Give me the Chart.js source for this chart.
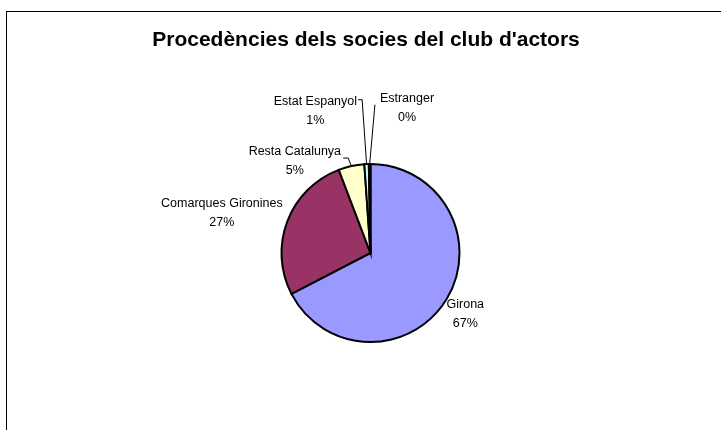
<!DOCTYPE html>
<html>
<head>
<meta charset="utf-8">
<script src="https://cdn.jsdelivr.net/npm/chart.js@4/dist/chart.umd.min.js"></script>
<style>
html,body{margin:0;padding:0;background:#fff;}
#wrap{position:relative;width:721px;height:430px;}
</style>
</head>
<body>
<div id="wrap"><canvas id="c" width="721" height="430"></canvas></div>
<script>
// ---- data ----
const chartTitle = "Procedències dels socies del club d'actors";
const categories = ["Girona", "Comarques Gironines", "Resta Catalunya", "Estat Espanyol", "Estranger"];
const shareValues = [67.4, 26.8, 4.7, 0.8, 0.3];
const percentLabels = ["67%", "27%", "5%", "1%", "0%"];
const sliceColors = ["#9999FF", "#993366", "#FFFFCC", "#CCFFFF", "#660066"];

// ---- layout (label placement relative to pie centre, in radius units) ----
const labelOffsets = [[1.065, 0.69], [-1.67, -0.45], [-0.85, -1.03], [-0.62, -1.60], [0.41, -1.63]];
const leaderPaths = [null, null, [[-0.306, -1.067], [-0.25, -1.067]], [[-0.139, -1.722], [-0.094, -1.722]], [[0.05, -1.667]]];

const frameAndLabels = {
  id: 'frameAndLabels',
  beforeDraw(chart) {
    const ctx = chart.ctx;
    ctx.save();
    ctx.fillStyle = '#fff';
    ctx.fillRect(0, 0, chart.width, chart.height);
    ctx.strokeStyle = '#000';
    ctx.lineWidth = 1;
    ctx.strokeRect(6.5, 11.5, chart.width + 10, chart.height + 10);
    ctx.restore();
  },
  afterDraw(chart) {
    const ctx = chart.ctx;
    const meta = chart.getDatasetMeta(0);
    const arc0 = meta.data[0];
    const cx = arc0.x, cy = arc0.y, r = arc0.outerRadius;
    ctx.save();
    // title
    ctx.fillStyle = '#000';
    ctx.font = 'bold 21px "Liberation Sans", Arial, sans-serif';
    ctx.textAlign = 'center';
    ctx.textBaseline = 'alphabetic';
    ctx.fillText(chartTitle, 366, 46);
    // labels
    ctx.textBaseline = 'middle';
    ctx.font = '12.5px "Liberation Sans", Arial, sans-serif';
    meta.data.forEach((arc, i) => {
      const mid = (arc.startAngle + arc.endAngle) / 2;
      const ax = cx + Math.cos(mid) * r, ay = cy + Math.sin(mid) * r;
      const lx = cx + labelOffsets[i][0] * r, ly = cy + labelOffsets[i][1] * r;
      ctx.fillText(chart.data.labels[i], lx, ly - 9.5);
      ctx.fillText(percentLabels[i], lx, ly + 9.5);
      const path = leaderPaths[i];
      if (path) {
        ctx.beginPath();
        ctx.strokeStyle = '#000';
        ctx.lineWidth = 1;
        path.forEach((p, k) => {
          const px = cx + p[0] * r, py = cy + p[1] * r;
          if (k === 0) ctx.moveTo(px, py); else ctx.lineTo(px, py);
        });
        ctx.lineTo(ax, ay);
        ctx.stroke();
      }
    });
    ctx.restore();
  }
};

new Chart(document.getElementById('c'), {
  type: 'pie',
  data: {
    labels: categories,
    datasets: [{
      data: shareValues,
      backgroundColor: sliceColors,
      borderColor: '#000',
      borderWidth: 2,
      borderJoinStyle: 'miter'
    }]
  },
  options: {
    responsive: false,
    animation: false,
    layout: { padding: { left: 280, right: 260, top: 163, bottom: 87 } },
    plugins: {
      legend: { display: false },
      title: { display: false },
      tooltip: { enabled: false }
    }
  },
  plugins: [frameAndLabels]
});
</script>
</body>
</html>
